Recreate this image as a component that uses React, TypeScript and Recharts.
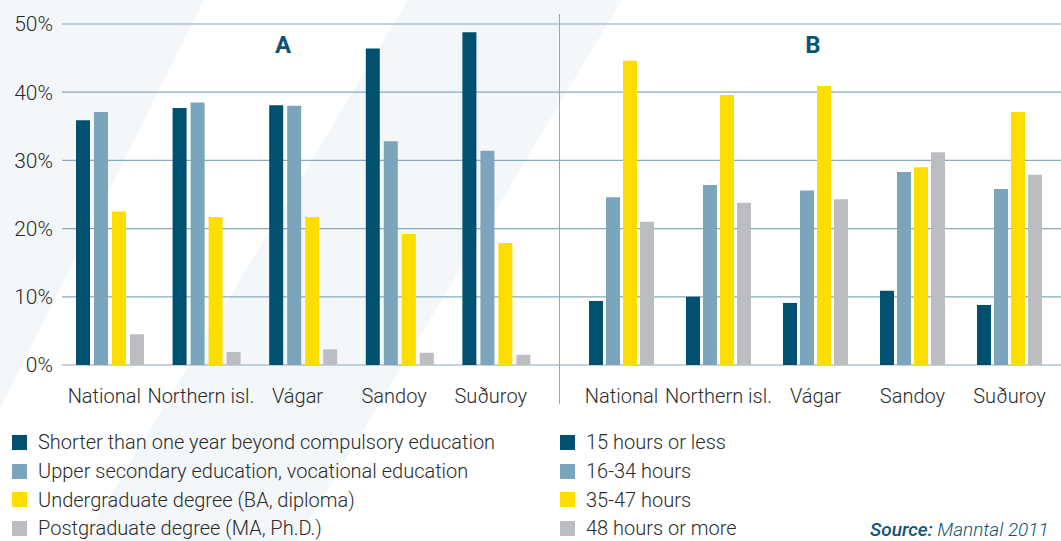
import React from "react";
import { BarChart, Bar, XAxis, YAxis, CartesianGrid, Legend } from "recharts";

const categories = ["National", "Northern isl.", "Vágar", "Sandoy", "Suðuroy"];

const seriesA = [
  "Shorter than one year beyond compulsory education",
  "Upper secondary education, vocational education",
  "Undergraduate degree (BA, diploma)",
  "Postgraduate degree (MA, Ph.D.)",
];
const seriesB = ["15 hours or less", "16-34 hours", "35-47 hours", "48 hours or more"];

const colors = ["#00506f", "#7aa5bd", "#ffdd00", "#bcbdc1"];

// Panel A values (%)
const aShort = [35.9, 37.7, 38.1, 46.4, 48.8];
const aUpper = [37.1, 38.5, 38.0, 32.8, 31.4];
const aUnder = [22.5, 21.7, 21.7, 19.2, 17.9];
const aPost = [4.5, 1.9, 2.3, 1.8, 1.5];

// Panel B values (%)
const b15 = [9.4, 10.0, 9.1, 10.9, 8.8];
const b16 = [24.6, 26.4, 25.6, 28.3, 25.8];
const b35 = [44.6, 39.6, 40.9, 29.0, 37.1];
const b48 = [21.0, 23.8, 24.3, 31.2, 27.9];

const yTicks = [0, 10, 20, 30, 40, 50];

const dataA = categories.map((c, i) => ({ name: c, s0: aShort[i], s1: aUpper[i], s2: aUnder[i], s3: aPost[i] }));
const dataB = categories.map((c, i) => ({ name: c, s0: b15[i], s1: b16[i], s2: b35[i], s3: b48[i] }));

const FONT = "Roboto, 'DejaVu Sans', sans-serif";
const TEXT = "#2b2b2b";
const GRID = "#86aabf";

const LegendContent = (props: any) => {
  const { payload, order } = props;
  const items = [...(payload || [])].sort(
    (a: any, b: any) => order.indexOf(a.value) - order.indexOf(b.value)
  );
  return (
    <div style={{ fontFamily: FONT }}>
      {items.map((p: any, i: number) => (
        <div key={i} style={{ display: "flex", alignItems: "center", height: 28.7 }}>
          <span style={{ display: "inline-block", width: 15, height: 15, background: p.color, marginRight: 11 }} />
          <span style={{ fontSize: 20, color: TEXT, fontWeight: 300, whiteSpace: "nowrap" }}>{p.value}</span>
        </div>
      ))}
    </div>
  );
};

const tickStyle = { fontSize: 20, fill: TEXT, fontFamily: FONT, fontWeight: 300 };

export default function App() {
  return (
    <div
      style={{
        position: "absolute",
        left: 0,
        top: 0,
        width: 1061,
        height: 541,
        overflow: "hidden",
        background: "#ffffff",
        fontFamily: FONT,
      }}
    >
      <svg width={1061} height={541} style={{ position: "absolute", left: 0, top: 0 }}>
        <polygon points="-10,0 204,0 -66,541 -280,541" fill="#f4f7f9" />
        <polygon points="408,0 622,0 297,541 83,541" fill="#f4f7f9" />
      </svg>

      <div style={{ position: "absolute", left: 0, top: 0 }}>
        <BarChart
          width={559}
          height={541}
          data={dataA}
          margin={{ top: 24, right: 0, bottom: 146, left: 0 }}
          barSize={14}
          barGap={4}
        >
          <CartesianGrid vertical={false} stroke={GRID} strokeWidth={1.2} />
          <XAxis
            dataKey="name"
            axisLine={false}
            tickLine={false}
            tickMargin={18}
            padding={{ left: 0, right: 14 }}
            tick={{ ...tickStyle, dx: -6 }}
            interval={0}
          />
          <YAxis
            width={62}
            domain={[0, 50]}
            ticks={yTicks}
            axisLine={false}
            tickLine={false}
            tickMargin={3}
            tickFormatter={(v: number) => `${v}%`}
            tick={{ ...tickStyle, fontSize: 21 }}
          />
          {seriesA.map((s, i) => (
            <Bar key={s} dataKey={`s${i}`} name={s} fill={colors[i]} isAnimationActive={false} />
          ))}
          <Legend
            layout="vertical"
            align="center"
            verticalAlign="middle"
            wrapperStyle={{ left: 12, top: 428, width: 530 }}
            content={<LegendContent order={seriesA} />}
          />
        </BarChart>
      </div>

      <div style={{ position: "absolute", left: 559, top: 0 }}>
        <BarChart
          width={502}
          height={541}
          data={dataB}
          margin={{ top: 24, right: 0, bottom: 146, left: 0 }}
          barSize={14}
          barGap={3}
        >
          <CartesianGrid vertical={false} stroke={GRID} strokeWidth={1.2} />
          <XAxis
            dataKey="name"
            axisLine={false}
            tickLine={false}
            tickMargin={18}
            padding={{ left: 14, right: 3 }}
            tick={tickStyle}
            interval={0}
          />
          <YAxis hide domain={[0, 50]} ticks={yTicks} />
          {seriesB.map((s, i) => (
            <Bar key={s} dataKey={`s${i}`} name={s} fill={colors[i]} isAnimationActive={false} />
          ))}
          <Legend
            layout="vertical"
            align="center"
            verticalAlign="middle"
            wrapperStyle={{ left: 1, top: 428, width: 300 }}
            content={<LegendContent order={seriesB} />}
          />
        </BarChart>
      </div>

      <div style={{ position: "absolute", left: 559, top: 14, width: 1, height: 390, background: "#8fa9b9" }} />

      <div
        style={{
          position: "absolute",
          left: 283,
          top: 45,
          transform: "translate(-50%, -50%)",
          fontSize: 24,
          fontWeight: 700,
          color: "#0b5377",
        }}
      >
        A
      </div>
      <div
        style={{
          position: "absolute",
          left: 813,
          top: 45,
          transform: "translate(-50%, -50%)",
          fontSize: 24,
          fontWeight: 700,
          color: "#0b5377",
        }}
      >
        B
      </div>

      <div
        style={{
          position: "absolute",
          left: 870,
          top: 529,
          transform: "translateY(-50%)",
          fontSize: 19,
          fontStyle: "italic",
          color: "#0b5377",
          whiteSpace: "nowrap",
        }}
      >
        <span style={{ fontWeight: 500 }}>Source:</span>
        <span style={{ fontWeight: 300 }}> Manntal 2011</span>
      </div>
    </div>
  );
}
